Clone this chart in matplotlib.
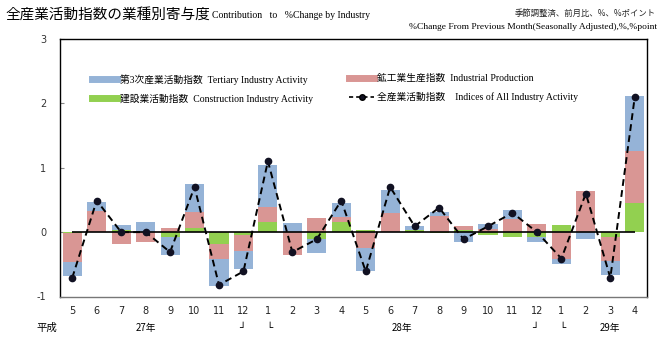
import matplotlib
matplotlib.use("Agg")
import matplotlib.pyplot as plt
from matplotlib.lines import Line2D
import numpy as np

months = ['5', '6', '7', '8', '9', '10', '11', '12', '1', '2', '3', '4',
          '5', '6', '7', '8', '9', '10', '11', '12', '1', '2', '3', '4']
tertiary = [-0.22, 0.14, 0.07, 0.15, -0.29, 0.43, -0.42, -0.28, 0.65, 0.14, -0.21, 0.23,
            -0.36, 0.36, 0.06, 0.07, -0.15, 0.08, 0.14, -0.07, -0.07, -0.10, -0.21, 0.86]
industrial = [-0.45, 0.33, -0.19, -0.15, 0.06, 0.25, -0.23, -0.25, 0.23, -0.35, 0.22, 0.07,
              -0.25, 0.29, 0.00, 0.25, 0.06, 0.05, 0.20, 0.13, -0.42, 0.64, -0.38, 0.81]
construction = [-0.01, 0.00, 0.04, 0.00, -0.07, 0.07, -0.18, -0.04, 0.16, 0.00, -0.11, 0.16,
                0.04, 0.00, 0.04, -0.02, 0.03, -0.04, -0.07, -0.08, 0.11, 0.00, -0.07, 0.45]
all_industry = [-0.71, 0.49, 0.00, 0.00, -0.31, 0.70, -0.82, -0.61, 1.10, -0.31, -0.11, 0.49,
                -0.61, 0.70, 0.09, 0.38, -0.11, 0.09, 0.30, 0.00, -0.41, 0.60, -0.71, 2.10]
era_label = '平成'
year_labels = ['27年', '28年', '29年']
year_label_pos = [3.0, 13.5, 22.0]
bracket_pos = [(7, '┘'), (8, '└'), (19, '┘'), (20, '└')]

c_blue = '#95B3D7'
c_red = '#D99694'
c_green = '#92D050'

CJK = 'Noto Sans CJK JP'
SERIF = 'Liberation Serif'

fig = plt.figure(figsize=(6.7, 3.42), dpi=100)
W, H = 670, 342
ax = fig.add_axes([60 / W, 1 - 296.5 / H, (647 - 60) / W, (296.5 - 39) / H])

x = np.arange(len(months))
pos_base = np.zeros(len(x))
neg_base = np.zeros(len(x))
series = [(construction, c_green), (industrial, c_red), (tertiary, c_blue)]
for vals, col in series:
    v = np.array(vals)
    bottoms = np.where(v >= 0, pos_base, neg_base)
    ax.bar(x, v, bottom=bottoms, width=0.78, color=col, edgecolor='none', zorder=2)
    pos_base = pos_base + np.where(v > 0, v, 0)
    neg_base = neg_base + np.where(v < 0, v, 0)

ax.hlines(0, x[0], x[-1], color='black', lw=1.2, zorder=3)
ax.plot(x, all_industry, color='black', ls=(0, (3.5, 2.2)), lw=1.4, marker='o',
        markersize=4.5, markerfacecolor='#111122', markeredgecolor='#111122', zorder=4)

ax.set_xlim(-0.5, len(x) - 0.5)
ax.set_ylim(-1, 3)
ax.set_yticks([-1, 0, 1, 2, 3])
ax.set_yticklabels(['-1', '0', '1', '2', '3'])
ax.set_xticks(x)
ax.set_xticklabels(months)
ax.tick_params(axis='x', length=0, pad=7, labelsize=7, colors='#222222')
ax.tick_params(axis='y', direction='in', length=3, color='#888888', pad=10,
               labelsize=7, labelcolor='#333333')
for s in ax.spines.values():
    s.set_color('black')
    s.set_linewidth(1.0)
ax.spines['bottom'].set_color('#777777')

# bottom labels (era, years, brackets)
tr = ax.get_xaxis_transform()
ytxt = -0.122
fig.text(47 / W, 1 - 328 / H, era_label, fontsize=7.5, family=[CJK], ha='center', va='center')
for p, lab in zip(year_label_pos, year_labels):
    ax.text(p, ytxt, lab, transform=tr, fontsize=7, family=[CJK, 'DejaVu Sans'],
            ha='center', va='center', clip_on=False)
for p, ch in bracket_pos:
    ax.text(p - 0.05 if ch == '┘' else p + 0.05, ytxt, ch, transform=tr, fontsize=7.5,
            family=['DejaVu Sans'], ha='center', va='center', clip_on=False, fontweight='bold')

# legends (two columns)
h_blue = Line2D([], [], color=c_blue, lw=5)
h_green = Line2D([], [], color=c_green, lw=5)
h_red = Line2D([], [], color=c_red, lw=5)
h_line = Line2D([], [], color='black', ls=(0, (2.5, 1.8)), lw=1.2, marker='o',
                markersize=4, markerfacecolor='#111122')
fam = [SERIF, CJK]
leg1 = ax.legend([h_blue, h_green],
                 ['第3次産業活動指数  Tertiary Industry Activity',
                  '建設業活動指数  Construction Industry Activity'],
                 loc='upper left', bbox_to_anchor=(88 / W, 1 - 70 / H),
                 bbox_transform=fig.transFigure, frameon=False,
                 prop={'family': fam, 'size': 7}, handlelength=2.6,
                 handletextpad=0.3, labelspacing=0.95, borderaxespad=0)
ax.add_artist(leg1)
leg2 = ax.legend([h_red, h_line],
                 ['鉱工業生産指数  Industrial Production',
                  '全産業活動指数    Indices of All Industry Activity'],
                 loc='upper left', bbox_to_anchor=(345 / W, 1 - 70 / H),
                 bbox_transform=fig.transFigure, frameon=False,
                 prop={'family': fam, 'size': 7}, handlelength=2.6,
                 handletextpad=0.3, labelspacing=0.95, borderaxespad=0)

# titles
fig.text(5 / W, 1 - 15 / H, '全産業活動指数の業種別寄与度', fontsize=10.5,
         family=[CJK], ha='left', va='center')
fig.text(212 / W, 1 - 16 / H, 'Contribution   to   %Change by Industry', fontsize=7,
         family=[SERIF], ha='left', va='center')
fig.text(656 / W, 1 - 13 / H, '季節調整済、前月比、%、%ポイント', fontsize=6,
         family=[CJK], ha='right', va='center', color='#222222')
fig.text(657 / W, 1 - 27 / H, '%Change From Previous Month(Seasonally Adjusted),%,%point',
         fontsize=6.8, family=[SERIF], ha='right', va='center')

fig.savefig('out.png', dpi=100)
